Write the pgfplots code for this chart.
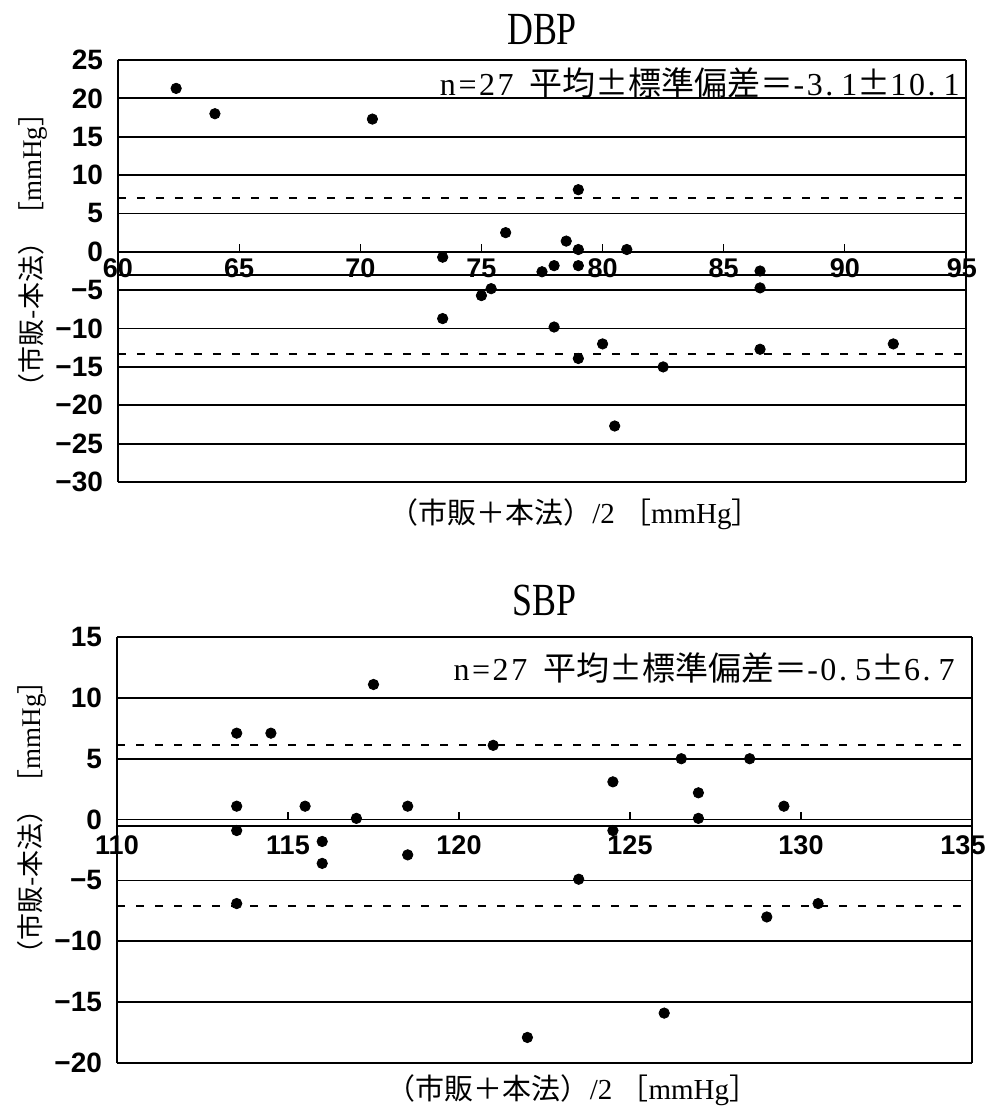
\documentclass[border=0pt]{standalone}
\usepackage{fontspec}
\setmainfont{Liberation Serif}
\newfontfamily\cjk{Noto Sans CJK JP}
\newfontfamily\tickfont{Liberation Sans}
\newfontfamily\numfont[LetterSpace=8]{Liberation Serif}
\newfontfamily\titlefont[FakeStretch=0.78]{Liberation Serif}
\usepackage{pgfplots}
\pgfplotsset{compat=1.18}

\pgfplotstableread{
x y
62.4 21.3
64.0 18.0
70.5 17.3
79.0 8.1
76.0 2.5
78.5 1.4
79.0 0.3
81.0 0.3
73.4 -0.7
77.5 -2.6
78.0 -1.8
79.0 -1.8
86.5 -2.5
86.5 -4.7
75.0 -5.7
75.4 -4.8
73.4 -8.7
78.0 -9.8
80.0 -12.0
79.0 -13.9
82.5 -15.0
86.5 -12.7
92.0 -12.0
80.5 -22.7
}\dbp

\pgfplotstableread{
x y
117.5 11.1
113.5 7.1
114.5 7.1
121.0 6.1
113.5 1.1
115.5 1.1
117.0 0.1
118.5 1.1
113.5 -0.9
116.0 -1.8
116.0 -3.6
118.5 -2.9
113.5 -6.9
122.0 -17.9
124.5 3.1
126.5 5.0
128.5 5.0
127.0 2.2
127.0 0.1
129.5 1.1
124.5 -0.9
123.5 -4.9
129.0 -8.0
130.5 -6.9
126.0 -15.9
}\sbp

\pgfplotsset{
  ba/.style={
    scale only axis,
    axis x line*=middle,
    axis y line=box,
    hide obscured x ticks=false,
    ytick pos=left,
    ymajorgrids,
    major grid style={black, line width=0.9pt},
    axis line style={black, line width=0.9pt},
    x axis line style={-},
    tick style={black, line width=0.6pt},
    tick align=inside,
    major tick length=4pt,
    xticklabel style={font=\tickfont\bfseries\fontsize{13.5}{16}\selectfont},
    yticklabel style={font=\tickfont\bfseries\fontsize{14}{16}\selectfont, xshift=-4pt},
    title style={font=\titlefont\fontsize{23}{26}\selectfont, anchor=base, at={(0.5,1)}},
    xlabel style={font=\fontsize{14.5}{16}\selectfont, anchor=center, at={(axis description cs:0.5,0)}},
    ylabel style={font=\fontsize{13.5}{16}\selectfont, anchor=center, rotate=0},
  },
  sdl/.style={black, line width=0.9pt, dash pattern=on 4pt off 5.5pt},
  meanl/.style={black, line width=0.9pt},
  pts/.style={only marks, mark=*, mark size=2.6pt, black},
}

\newcommand{\stat}[4]{{\fontsize{16}{18}\selectfont{\numfont n=27}\hspace{0.5em}{\cjk\fontsize{16.5}{18}\selectfont 平均±標準偏差＝}{\numfont -#1.\hspace{0.25em}#2}{\cjk\fontsize{16.5}{18}\selectfont ±}{\numfont #3.\hspace{0.25em}#4}}}

\begin{document}
\begin{tikzpicture}
\path[use as bounding box] (0,0) rectangle (494.5pt,-557.5pt);

\begin{axis}[ba,
  at={(59pt,-30pt)}, anchor=north west,
  width=424pt, height=211pt,
  xmin=60, xmax=95, ymin=-30, ymax=25,
  xtick={60,65,...,95},
  xticklabels={60,65,70,75,80,85,90,\kern-4pt 95},
  xticklabel style={yshift=0pt},
  ytick={-30,-25,...,25},
  yticklabels={−30,−25,−20,−15,−10,−5,0,5,10,15,20,25},
  title={DBP},
  title style={yshift=2pt},
  xlabel={{\cjk （市販＋本法）}/2 {\cjk ［}mmHg{\cjk ］}},
  xlabel style={xshift=16.5pt, yshift=-16pt},
  ylabel={{\cjk （市販-本法）［}mmHg{\cjk ］}},
  ylabel style={at={(axis description cs:-0.1,0.55)}},
]
\addplot[meanl] coordinates {(60,-3.0) (95,-3.0)};
\addplot[sdl] coordinates {(60,7.0) (95,7.0)};
\addplot[sdl] coordinates {(60,-13.3) (95,-13.3)};
\addplot[pts] table[x=x,y=y] {\dbp};
\node[anchor=base east, xshift=-3pt, yshift=-17.5pt, inner sep=0pt] at (rel axis cs:1,1) {\stat{3}{1}{10}{1}};
\end{axis}

\begin{axis}[ba,
  at={(58.5pt,-318.5pt)}, anchor=north west,
  width=427.5pt, height=213pt,
  xmin=110, xmax=135, ymin=-20, ymax=15,
  xtick={110,115,...,135},
  xticklabels={110,115,120,125,130,\kern-9pt 135},
  xticklabel style={yshift=-4.5pt},
  ytick={-20,-15,...,15},
  yticklabels={−20,−15,−10,−5,0,5,10,15},
  title={SBP},
  title style={yshift=5pt},
  xlabel={{\cjk （市販＋本法）}/2 {\cjk ［}mmHg{\cjk ］}},
  xlabel style={xshift=14pt, yshift=-13.5pt},
  ylabel={{\cjk （市販-本法）［}mmHg{\cjk ］}},
  ylabel style={at={(axis description cs:-0.099,0.577)}},
]
\addplot[meanl] coordinates {(110,-0.5) (135,-0.5)};
\addplot[sdl] coordinates {(110,6.1) (135,6.1)};
\addplot[sdl] coordinates {(110,-7.1) (135,-7.1)};
\addplot[pts] table[x=x,y=y] {\sbp};
\node[anchor=base east, xshift=-8.5pt, yshift=-21.5pt, inner sep=0pt] at (rel axis cs:1,1) {\stat{0}{5}{6}{7}};
\end{axis}
\end{tikzpicture}
\end{document}
